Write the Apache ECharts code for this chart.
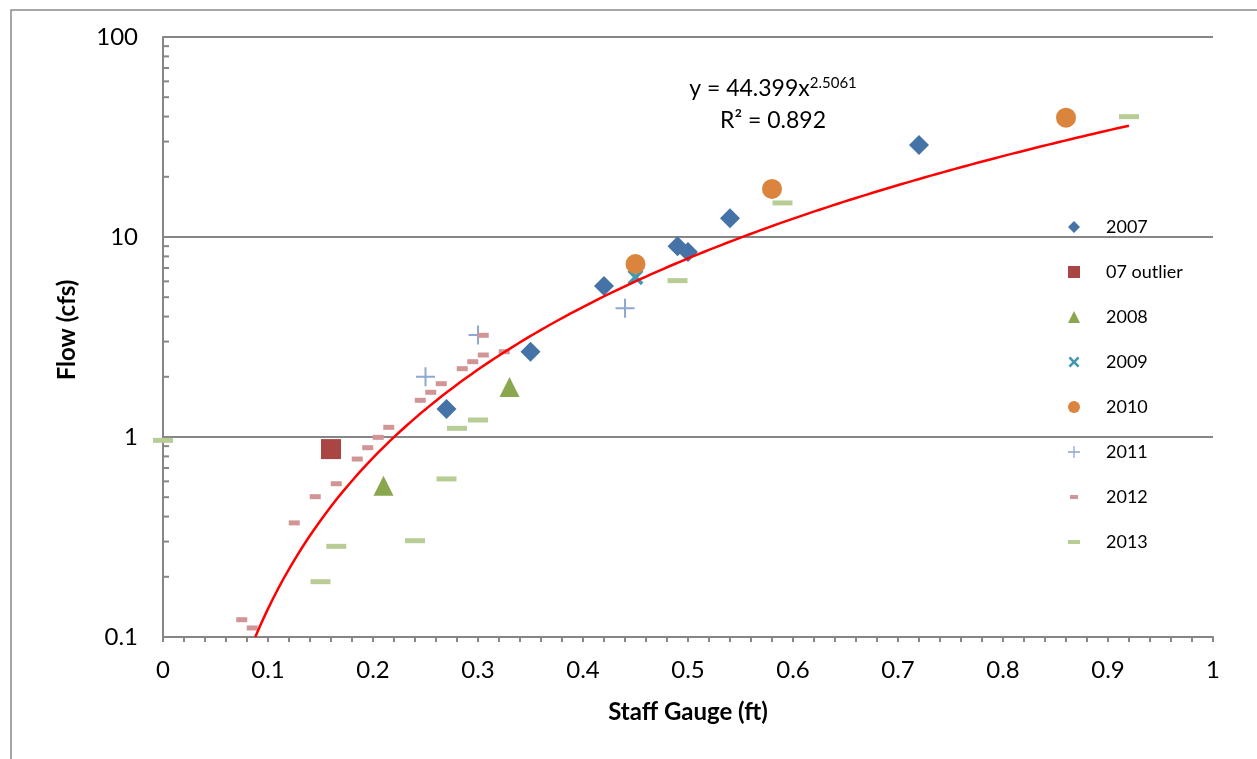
<!DOCTYPE html>
<html>
<head>
<meta charset="utf-8">
<script src="https://cdn.jsdelivr.net/npm/echarts@6/dist/echarts.min.js"></script>
<style>
html,body{margin:0;padding:0;background:#fff;}
#chart{width:1257px;height:759px;}
</style>
</head>
<body>
<div id="chart"></div>
<script>
// ---- data ----
const x2007 = [0.27, 0.35, 0.42, 0.49, 0.50, 0.54, 0.72];
const y2007 = [1.38, 2.67, 5.69, 9.0, 8.41, 12.4, 28.8];

const xOutlier = [0.16];
const yOutlier = [0.87];

const x2008 = [0.21, 0.33];
const y2008 = [0.57, 1.78];

const x2009 = [0.45];
const y2009 = [6.3];

const x2010 = [0.45, 0.58, 0.86];
const y2010 = [7.33, 17.4, 39.5];

const x2011 = [0.25, 0.30, 0.44];
const y2011 = [2.0, 3.24, 4.4];

const x2012 = [0.075, 0.085, 0.125, 0.145, 0.165, 0.185, 0.195, 0.205, 0.215, 0.245, 0.255, 0.265, 0.285, 0.295, 0.305, 0.305, 0.325];
const y2012 = [0.122, 0.111, 0.372, 0.503, 0.584, 0.776, 0.884, 0.996, 1.118, 1.526, 1.673, 1.847, 2.196, 2.38, 2.57, 3.225, 2.67];

const x2013 = [0.0, 0.15, 0.165, 0.24, 0.27, 0.28, 0.30, 0.49, 0.59, 0.92];
const y2013 = [0.962, 0.189, 0.284, 0.303, 0.617, 1.105, 1.216, 6.05, 14.8, 39.96];

// power trendline shown on the chart: y = 44.399 x^2.5061, R² = 0.892
const trendA = 44.399;
const trendB = 2.5061;
const trendR2 = '0.892';
const trendXMax = 0.92;

const seriesNames = ['2007', '07 outlier', '2008', '2009', '2010', '2011', '2012', '2013'];
const yMinorTicks = [0.2,0.3,0.4,0.5,0.6,0.7,0.8,0.9, 2,3,4,5,6,7,8,9, 20,30,40,50,60,70,80,90];

const xAxisTitle = 'Staff Gauge (ft)';
const yAxisTitle = 'Flow (cfs)';

// ---- build ----
function pairs(xs, ys){ return xs.map((x,i)=>[x, ys[i]]); }

const trendStart = Math.pow(0.1 / trendA, 1 / trendB);
const trendData = [];
const N = 150;
for (let i = 0; i <= N; i++) {
  const x = trendStart + (trendXMax - trendStart) * i / N;
  trendData.push([x, trendA * Math.pow(x, trendB)]);
}

const FONT = 'Lato';
const AXIS_GRAY = '#868686';

const plusPath = 'path://M8.5,0 H10.5 V19 H8.5 Z M0,8.5 H19 V10.5 H0 Z';
const xPath = 'path://M0,3 L3,0 L9,6 L15,0 L18,3 L12,9 L18,15 L15,18 L9,12 L3,18 L0,15 L6,9 Z';

const styles = {
  '2007':       {color:'#4572A7', symbol:'diamond', size:20},
  '07 outlier': {color:'#A94643', symbol:'rect', size:20},
  '2008':       {color:'#8AA64F', symbol:'triangle', size:20},
  '2009':       {color:'#4198AF', symbol:xPath, size:16},
  '2010':       {color:'#DB843D', symbol:'circle', size:20},
  '2011':       {color:'#8FA7D1', symbol:plusPath, size:19},
  '2012':       {color:'#D29596', symbol:'rect', size:[11,5]},
  '2013':       {color:'#B8CD96', symbol:'rect', size:[20,5]}
};
const dataByName = {
  '2007': pairs(x2007, y2007),
  '07 outlier': pairs(xOutlier, yOutlier),
  '2008': pairs(x2008, y2008),
  '2009': pairs(x2009, y2009),
  '2010': pairs(x2010, y2010),
  '2011': pairs(x2011, y2011),
  '2012': pairs(x2012, y2012),
  '2013': pairs(x2013, y2013)
};

const scatterSeries = seriesNames.map(name => ({
  name: name,
  type: 'scatter',
  data: dataByName[name],
  symbol: styles[name].symbol,
  symbolSize: styles[name].size,
  itemStyle: {color: styles[name].color, opacity: 1},
  emphasis: {disabled: true}
}));

const legendIcons = {
  '2007': {icon:'diamond', w:12, h:12},
  '07 outlier': {icon:'rect', w:12, h:12},
  '2008': {icon:'triangle', w:12, h:12},
  '2009': {icon:xPath, w:11, h:11},
  '2010': {icon:'circle', w:12, h:12},
  '2011': {icon:plusPath, w:12, h:12},
  '2012': {icon:'rect', w:8, h:4},
  '2013': {icon:'rect', w:12, h:4}
};
const legendX = 1074, legendTextX = 1106, legendY0 = 227, legendStep = 45;
const legends = seriesNames.map((name, i) => {
  const li = legendIcons[name];
  const yc = legendY0 + i * legendStep;
  const pad = legendTextX - (legendX + li.w / 2 + 5);
  return {
    show: true,
    orient: 'horizontal',
    left: legendX - li.w / 2,
    top: yc - 11,
    padding: 0,
    itemGap: 0,
    itemWidth: li.w,
    itemHeight: li.h,
    selectedMode: false,
    data: [{name: name, icon: li.icon}],
    formatter: '{t|{name}}',
    textStyle: {
      fontSize: 18, fontFamily: FONT, color: '#000', lineHeight: 22,
      rich: {t: {fontSize: 18, fontFamily: FONT, color: '#000', lineHeight: 22, padding: [0,0,0,pad]}}
    }
  };
});

const chart = echarts.init(document.getElementById('chart'), null, {renderer: 'canvas'});
chart.setOption({
  animation: false,
  backgroundColor: '#fff',
  textStyle: {fontFamily: FONT},
  grid: {left: 163, top: 37, right: 44, bottom: 122, containLabel: false, outerBoundsMode: 'none'},
  legend: legends,
  xAxis: {
    type: 'value', min: 0, max: 1, interval: 0.1,
    name: xAxisTitle, nameLocation: 'middle', nameGap: 63,
    nameTextStyle: {fontSize: 24, fontWeight: 'bold', color: '#000', fontFamily: FONT},
    axisLine: {show: true, lineStyle: {color: AXIS_GRAY, width: 2}},
    axisTick: {show: true, inside: false, length: 5, lineStyle: {color: AXIS_GRAY, width: 2}},
    minorTick: {show: true, splitNumber: 5, length: 5, lineStyle: {color: AXIS_GRAY, width: 2}},
    axisLabel: {fontSize: 24, color: '#000', margin: 21, fontFamily: FONT},
    splitLine: {show: false},
    minorSplitLine: {show: false}
  },
  yAxis: {
    type: 'log', logBase: 10, min: 0.1, max: 100,
    name: yAxisTitle, nameLocation: 'middle', nameGap: 84, nameRotate: 90,
    nameTextStyle: {fontSize: 24, fontWeight: 'bold', color: '#000', fontFamily: FONT, padding: [0,0,0,14]},
    axisLine: {show: true, lineStyle: {color: AXIS_GRAY, width: 2}},
    axisTick: {show: true, inside: true, length: 6, lineStyle: {color: AXIS_GRAY, width: 2}},
    axisLabel: {fontSize: 24, color: '#000', margin: 25, fontFamily: FONT,
      formatter: v => String(Number(v.toPrecision(6)))},
    splitLine: {show: true, lineStyle: {color: AXIS_GRAY, width: 2}}
  },
  graphic: [
    {type: 'rect', silent: true, z: -10, shape: {x: 11, y: 10, width: 1400, height: 900},
     style: {fill: 'none', stroke: '#8a8a8a', lineWidth: 1.5}},
    {type: 'text', x: 773, y: 89, z: 100,
     style: {text: '{a|y = ' + trendA + 'x}{s|' + trendB + '}', align: 'center', verticalAlign: 'middle',
       rich: {
         a: {fontSize: 23, fontFamily: FONT, fill: '#000', color: '#000', lineHeight: 26},
         s: {fontSize: 15, fontFamily: FONT, fill: '#000', color: '#000', lineHeight: 15, verticalAlign: 'top'}
       }}},
    {type: 'text', x: 773, y: 121, z: 100,
     style: {text: 'R² = ' + trendR2, align: 'center', verticalAlign: 'middle',
       font: '23px Lato', fill: '#000'}}
  ],
  series: [
    {
      name: 'yMinorTicks', type: 'custom', silent: true, z: 1,
      data: yMinorTicks.map(v => [0, v]),
      encode: {x: 0, y: 1},
      renderItem: function(params, api){
        const p = api.coord([0, api.value(1)]);
        return {type: 'line', shape: {x1: p[0], y1: p[1], x2: p[0] + 6, y2: p[1]},
          style: {stroke: AXIS_GRAY, lineWidth: 2}};
      }
    }
  ].concat(scatterSeries).concat([
    {
      name: 'Power trendline', type: 'line', data: trendData, showSymbol: false, symbol: 'none',
      smooth: false, clip: true, z: 5,
      lineStyle: {color: '#FF0000', width: 2.5},
      emphasis: {disabled: true}
    }
  ])
});
</script>
</body>
</html>
